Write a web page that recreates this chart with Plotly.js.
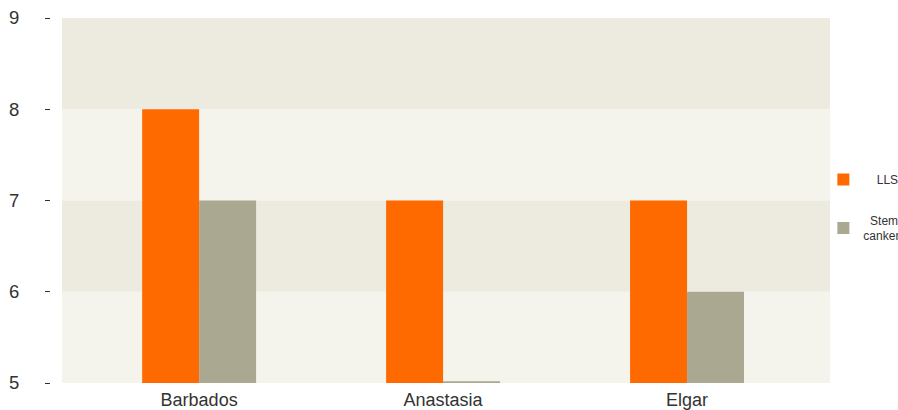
<!DOCTYPE html>
<html>
<head>
<meta charset="utf-8">
<script src="https://cdn.plot.ly/plotly-3.0.1.min.js"></script>
<style>html,body{margin:0;padding:0;background:#fff;overflow:hidden}#chart{width:898px;height:410px}</style>
</head>
<body>
<div id="chart"></div>
<script>
var categories = ["Barbados", "Anastasia", "Elgar"];
var llsValues = [8, 7, 7];
var stemCankerValues = [7, 5.02, 6];
var seriesNames = ["\u00a0\u00a0\u00a0\u00a0LLS", "\u00a0\u00a0Stem<br>canker"];
var yTicks = [5, 6, 7, 8, 9];
var bands = [[8, 9, "#edeadf"], [7, 8, "#f4f3ec"], [6, 7, "#edeadf"], [5, 6, "#f4f3ec"]];

var traces = [
  {type: "bar", name: seriesNames[0], legendgroup: "a", x: [0, 1, 2], y: llsValues.map(function(v){return v - 5;}), base: 5,
   marker: {color: "#ff6a00"}, hoverinfo: "skip"},
  {type: "bar", name: seriesNames[1], legendgroup: "b", x: [0, 1, 2], y: stemCankerValues.map(function(v){return v - 5;}), base: 5,
   marker: {color: "#aaa891"}, hoverinfo: "skip"}
];

var shapes = bands.map(function(b){
  return {type: "rect", layer: "below", xref: "x domain", yref: "y", x0: 0, x1: 1, y0: b[0], y1: b[1],
          fillcolor: b[2], line: {width: 0}};
});

var layout = {
  width: 898, height: 410,
  margin: {l: 50, r: 68, t: 18, b: 27, autoexpand: false},
  paper_bgcolor: "#ffffff", plot_bgcolor: "#ffffff",
  font: {family: "Liberation Sans, Arial, sans-serif", color: "#333333"},
  barmode: "group", bargap: 0.533, bargroupgap: 0,
  showlegend: true,
  legend: {x: 0.9915, xanchor: "left", y: 0.5975, yanchor: "top", font: {size: 12, color: "#333333"},
           bgcolor: "rgba(0,0,0,0)", traceorder: "grouped", tracegroupgap: 22},
  xaxis: {domain: [0.0154, 1], range: [-0.562, 2.586], tickmode: "array", tickvals: [0, 1, 2], ticktext: categories,
          showgrid: false, zeroline: false, showline: false, ticks: "", ticklabelstandoff: 4,
          tickfont: {size: 18, color: "#333333"}},
  yaxis: {anchor: "free", position: 0, range: [5, 9], tickmode: "array", tickvals: yTicks, ticktext: yTicks.map(String),
          showgrid: false, zeroline: false, showline: false, ticks: "outside", ticklen: 5, tickwidth: 1, tickcolor: "#333333",
          ticklabelstandoff: 22, tickfont: {size: 18.5, color: "#333333"}},
  shapes: shapes
};

Plotly.newPlot("chart", traces, layout, {displayModeBar: false, staticPlot: true});
</script>
</body>
</html>
